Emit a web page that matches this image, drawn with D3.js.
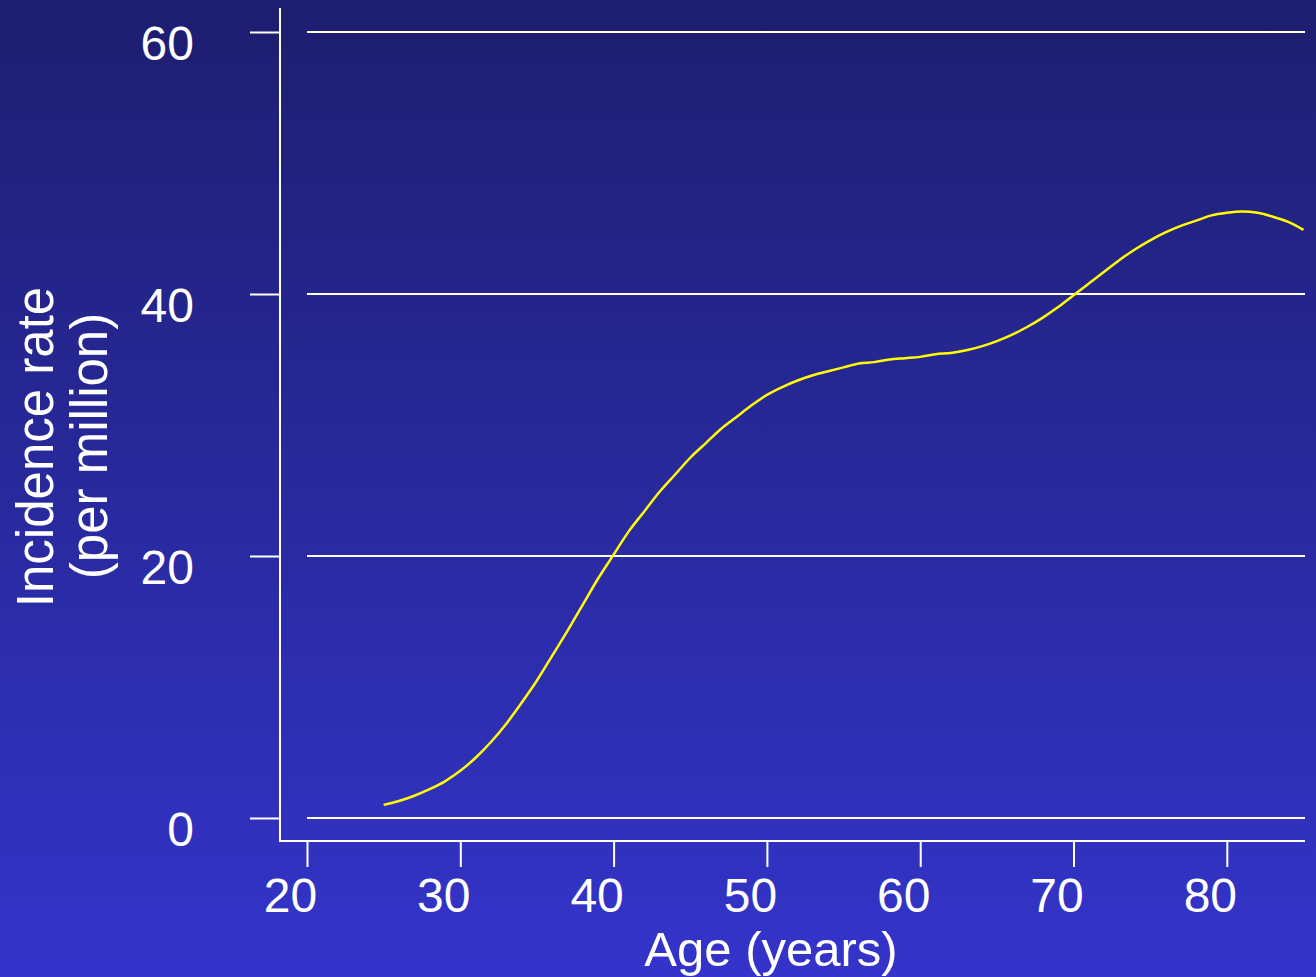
<!DOCTYPE html>
<html>
<head>
<meta charset="utf-8">
<script src="https://cdn.jsdelivr.net/npm/d3@7"></script>
<style>
  html, body { margin: 0; padding: 0; background: #2a2aa0; }
  svg { display: block; }
  text { font-family: "Liberation Sans", Arial, sans-serif; fill: #ffffff; }
</style>
</head>
<body>
<svg id="chart" width="1316" height="977"></svg>
<script>
// Data
const ages = [25,26,27,28,29,30,31,32,33,34,35,36,37,38,39,40,41,42,43,44,45,46,47,48,49,50,51,52,53,54,55,56,57,58,59,60,61,62,63,64,65,66,67,68,69,70,71,72,73,74,75,76,77,78,79,80,81,82,83,84,85];
const rates = [1.0,1.3,1.7,2.2,2.8,3.6,4.6,5.8,7.2,8.8,10.5,12.4,14.3,16.3,18.3,20.1,21.9,23.4,24.9,26.2,27.5,28.6,29.7,30.6,31.5,32.3,32.9,33.4,33.8,34.1,34.4,34.7,34.8,35.0,35.1,35.2,35.4,35.5,35.7,36.0,36.4,36.9,37.5,38.2,39.0,39.9,40.8,41.7,42.6,43.4,44.1,44.7,45.2,45.6,46.0,46.2,46.3,46.2,45.9,45.5,44.9];
const xTicks = [20,30,40,50,60,70,80];
const yTicks = [0,20,40,60];
const xTitle = "Age (years)";
const yTitleLines = ["Incidence rate", "(per million)"];

const svg = d3.select("#chart");
const W = 1316, H = 977;

// Background gradient
const defs = svg.append("defs");
const grad = defs.append("linearGradient").attr("id","bg").attr("x1",0).attr("y1",0).attr("x2",0).attr("y2",1);
grad.append("stop").attr("offset","0%").attr("stop-color","#1d1e6f");
grad.append("stop").attr("offset","100%").attr("stop-color","#3434cb");
svg.append("rect").attr("width",W).attr("height",H).attr("fill","url(#bg)");

const x = d3.scaleLinear().domain([20, 85.1]).range([307, 1305]);
const y = d3.scaleLinear().domain([0, 60]).range([818, 32]);

const axisX = 280, axisY = 841;

// Gridlines
svg.append("g").selectAll("line").data(yTicks).join("line")
  .attr("x1", x(20)).attr("x2", 1305)
  .attr("y1", d => y(d)).attr("y2", d => y(d))
  .attr("stroke", "#ffffff").attr("stroke-width", 2);

// Y axis
const yAxis = d3.axisLeft(y).tickValues(yTicks).tickSize(30).tickPadding(0).tickFormat(d3.format("d"));
const gy = svg.append("g").attr("transform", `translate(${axisX},0)`).call(yAxis);
gy.select(".domain").remove();
gy.selectAll(".tick line").attr("stroke", "#fff").attr("stroke-width", 2);
gy.selectAll(".tick text").attr("x", -86).attr("dy", null).attr("y", 27)
  .attr("text-anchor", "end").style("font-size", "48px").attr("fill", "#fff");
svg.append("line").attr("x1", axisX).attr("x2", axisX).attr("y1", 8).attr("y2", axisY + 1)
  .attr("stroke", "#fff").attr("stroke-width", 2);

// X axis
const xAxis = d3.axisBottom(x).tickValues(xTicks).tickSize(26).tickPadding(0).tickFormat(d3.format("d"));
const gx = svg.append("g").attr("transform", `translate(0,${axisY})`).call(xAxis);
gx.select(".domain").remove();
gx.selectAll(".tick line").attr("stroke", "#fff").attr("stroke-width", 2);
gx.selectAll(".tick text").attr("x", -17).attr("y", 71).attr("dy", null)
  .attr("text-anchor", "middle").style("font-size", "48px").attr("fill", "#fff");
svg.append("line").attr("x1", axisX - 1).attr("x2", 1305).attr("y1", axisY).attr("y2", axisY)
  .attr("stroke", "#fff").attr("stroke-width", 2);

// Curve
const data = ages.map((a, i) => ({a, v: rates[i]}));
const line = d3.line().x(d => x(d.a)).y(d => y(d.v)).curve(d3.curveMonotoneX);
svg.append("path").datum(data).attr("d", line)
  .attr("fill", "none").attr("stroke", "#ffff00").attr("stroke-width", 2.5);

// Titles
svg.append("text").attr("x", 771).attr("y", 966).attr("text-anchor", "middle")
  .style("font-size", "49px").text(xTitle);
svg.append("text").attr("transform", "translate(53,447) rotate(-90)").attr("text-anchor", "middle")
  .style("font-size", "51px").text(yTitleLines[0]);
svg.append("text").attr("transform", "translate(107,446) rotate(-90)").attr("text-anchor", "middle")
  .style("font-size", "51px").text(yTitleLines[1]);
</script>
</body>
</html>
